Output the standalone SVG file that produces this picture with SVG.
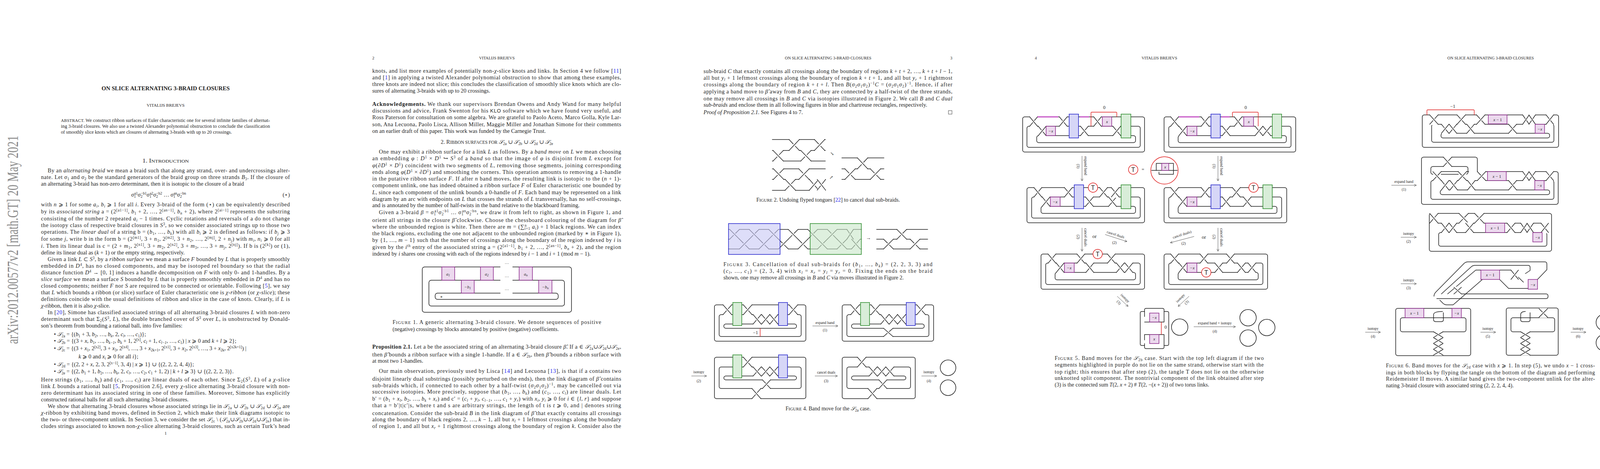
<svg xmlns="http://www.w3.org/2000/svg" xmlns:xlink="http://www.w3.org/1999/xlink" width="4240" height="1200" viewBox="0 0 4240 1200">
<style>
text{font-family:"Liberation Serif","DejaVu Serif",serif;fill:#1e1e1e}
.t{font-size:14.4px}
.h{font-size:10.5px}
.c{font-size:14px}
.a{font-size:9.5px}
.i{font-style:italic}
.b{font-weight:bold}
.sb{font-size:9.5px;baseline-shift:-3px}
.sp{font-size:9.5px;baseline-shift:5px}
.ln{fill:#1a1aee}
.s{fill:none;stroke:#1e1e1e;stroke-width:1.5;stroke-linecap:round;stroke-linejoin:round}
.pk{fill:#ecd9ee;stroke:#8e2c8e;stroke-width:1.5}
.bl{fill:#d6d6f7;stroke:#2323cc;stroke-width:1.5}
.gr{fill:#d8edd8;stroke:#2a8a2a;stroke-width:1.5}
.blt{fill:#c8c8f5;fill-opacity:.6;stroke:#2323cc;stroke-width:1.5}
.grt{fill:#c8e6c8;fill-opacity:.6;stroke:#2a8a2a;stroke-width:1.5}
.rd{fill:none;stroke:#e02020;stroke-width:1.4}
.tc{fill:#fff;stroke:#e02020;stroke-width:1.5}
.ar{fill:none;stroke:#333;stroke-width:0.8;marker-end:url(#ah)}
.mg{stroke:#e070e0;stroke-width:4;stroke-opacity:.8}
.bx{font-size:11px;font-style:italic}
</style>
<defs>
<marker id="ah" markerWidth="8" markerHeight="8" refX="6" refY="3" orient="auto" markerUnits="userSpaceOnUse"><path d="M0 0 L6 3 L0 6" fill="none" stroke="#333" stroke-width="0.8"/></marker>
<g id="xa"><rect x="1" y="-2" width="22" height="28" fill="#fff"/><path d="M0 0 L24 24" class="s" vector-effect="non-scaling-stroke"/><path d="M0 24 L9.5 14.5 M14.5 9.5 L24 0" class="s" vector-effect="non-scaling-stroke"/></g>
<g id="xb"><rect x="1" y="-2" width="22" height="28" fill="#fff"/><path d="M0 24 L24 0" class="s" vector-effect="non-scaling-stroke"/><path d="M0 0 L9.5 9.5 M14.5 14.5 L24 24" class="s" vector-effect="non-scaling-stroke"/></g>
<g id="ya"><path d="M0 0 L24 24" class="s" vector-effect="non-scaling-stroke"/><path d="M0 24 L9.5 14.5 M14.5 9.5 L24 0" class="s" vector-effect="non-scaling-stroke"/></g>
<g id="yb"><path d="M0 24 L24 0" class="s" vector-effect="non-scaling-stroke"/><path d="M0 0 L9.5 9.5 M14.5 14.5 L24 24" class="s" vector-effect="non-scaling-stroke"/></g>
</defs>
<rect width="4240" height="1200" fill="#fff"/>

<!-- ================= PAGE 1 ================= -->
<g id="page1">
<text transform="translate(46,880) rotate(-90)" font-size="40" fill="#8a8a8a" style="fill:#8a8a8a" textLength="533" lengthAdjust="spacingAndGlyphs">arXiv:2012.00577v2  [math.GT]  20 May 2021</text>
<text x="424" y="231" text-anchor="middle" class="b" font-size="14" textLength="328" lengthAdjust="spacingAndGlyphs">ON SLICE ALTERNATING 3-BRAID CLOSURES</text>
<text x="424" y="273" text-anchor="middle" font-size="11" textLength="97" lengthAdjust="spacingAndGlyphs">VITALIJS BREJEVS</text>
<text x="156" y="312" font-size="12.2" textLength="535" lengthAdjust="spacing"><tspan font-size="11">ABSTRACT.</tspan>  We construct ribbon surfaces of Euler characteristic one for several infinite families of alternat-</text>
<text x="156" y="327" font-size="12.2" textLength="535" lengthAdjust="spacing">ing 3-braid closures. We also use a twisted Alexander polynomial obstruction to conclude the classification</text>
<text x="156" y="342" font-size="12.2">of smoothly slice knots which are closures of alternating 3-braids with up to 20 crossings.</text>
<text x="424" y="416" text-anchor="middle" font-size="14" textLength="119" lengthAdjust="spacingAndGlyphs">1. I<tspan font-size="11">NTRODUCTION</tspan></text>
<g class="t">
<text x="122" y="441" textLength="620" lengthAdjust="spacing">By an <tspan class="i">alternating braid</tspan> we mean a braid such that along any strand, over- and undercrossings alter-</text>
<text x="105" y="458" textLength="637" lengthAdjust="spacing">nate. Let <tspan class="i">σ</tspan><tspan class="sb">1</tspan> and <tspan class="i">σ</tspan><tspan class="sb">2</tspan> be the standard generators of the braid group on three strands <tspan class="i">B</tspan><tspan class="sb">3</tspan>. If the closure of</text>
<text x="105" y="475">an alternating 3-braid has non-zero determinant, then it is isotopic to the closure of a braid</text>
<text x="336" y="503"><tspan class="i">σ</tspan><tspan class="sb">1</tspan><tspan class="sp" dx="-4">a1</tspan><tspan class="i">σ</tspan><tspan class="sb">2</tspan><tspan class="sp" dx="-4">−b1</tspan><tspan class="i">σ</tspan><tspan class="sb">1</tspan><tspan class="sp" dx="-4">a2</tspan><tspan class="i">σ</tspan><tspan class="sb">2</tspan><tspan class="sp" dx="-4">−b2</tspan> … <tspan class="i">σ</tspan><tspan class="sb">1</tspan><tspan class="sp" dx="-4">an</tspan><tspan class="i">σ</tspan><tspan class="sb">2</tspan><tspan class="sp" dx="-4">−bn</tspan></text>
<text x="742" y="503" text-anchor="end">(⋆)</text>
<text x="105" y="528" textLength="637" lengthAdjust="spacing">with <tspan class="i">n</tspan> ⩾ 1 for some <tspan class="i">a<tspan class="sb">i</tspan>, b<tspan class="sb">i</tspan></tspan> ⩾ 1 for all <tspan class="i">i</tspan>. Every 3-braid of the form (⋆) can be equivalently described</text>
<text x="105" y="546" textLength="637" lengthAdjust="spacing">by its <tspan class="i">associated string</tspan> a = (2<tspan class="sp">[a1−1]</tspan>, <tspan class="i">b</tspan><tspan class="sb">1</tspan> + 2, …, 2<tspan class="sp">[an−1]</tspan>, <tspan class="i">b<tspan class="sb">n</tspan></tspan> + 2), where 2<tspan class="sp">[ai−1]</tspan> represents the substring</text>
<text x="105" y="564" textLength="637" lengthAdjust="spacing">consisting of the number 2 repeated <tspan class="i">a<tspan class="sb">i</tspan></tspan> − 1 times. Cyclic rotations and reversals of a do not change</text>
<text x="105" y="581" textLength="637" lengthAdjust="spacing">the isotopy class of respective braid closures in <tspan class="i">S</tspan><tspan class="sp">3</tspan>, so we consider associated strings up to those two</text>
<text x="105" y="598" textLength="637" lengthAdjust="spacing">operations. The <tspan class="i">linear dual</tspan> of a string b = (<tspan class="i">b</tspan><tspan class="sb">1</tspan>, …, <tspan class="i">b<tspan class="sb">k</tspan></tspan>) with all <tspan class="i">b<tspan class="sb">i</tspan></tspan> ⩾ 2 is defined as follows: if <tspan class="i">b<tspan class="sb">j</tspan></tspan> ⩾ 3</text>
<text x="105" y="616" textLength="637" lengthAdjust="spacing">for some <tspan class="i">j</tspan>, write b in the form b = (2<tspan class="sp">[m1]</tspan>, 3 + <tspan class="i">n</tspan><tspan class="sb">1</tspan>, 2<tspan class="sp">[m2]</tspan>, 3 + <tspan class="i">n</tspan><tspan class="sb">2</tspan>, …, 2<tspan class="sp">[mj]</tspan>, 2 + <tspan class="i">n<tspan class="sb">j</tspan></tspan>) with <tspan class="i">m<tspan class="sb">i</tspan>, n<tspan class="sb">i</tspan></tspan> ⩾ 0 for all</text>
<text x="105" y="634" textLength="637" lengthAdjust="spacing"><tspan class="i">i</tspan>. Then its linear dual is c = (2 + <tspan class="i">m</tspan><tspan class="sb">1</tspan>, 2<tspan class="sp">[n1]</tspan>, 3 + <tspan class="i">m</tspan><tspan class="sb">2</tspan>, 2<tspan class="sp">[n2]</tspan>, 3 + <tspan class="i">m</tspan><tspan class="sb">3</tspan>, …, 3 + <tspan class="i">m<tspan class="sb">j</tspan></tspan>, 2<tspan class="sp">[nj]</tspan>). If b is (2<tspan class="sp">[k]</tspan>) or (1),</text>
<text x="105" y="651">define its linear dual as (<tspan class="i">k</tspan> + 1) or the empty string, respectively.</text>
<text x="122" y="668" textLength="620" lengthAdjust="spacing">Given a link <tspan class="i">L</tspan> ⊂ <tspan class="i">S</tspan><tspan class="sp">3</tspan>, by a <tspan class="i">ribbon surface</tspan> we mean a surface <tspan class="i">F</tspan> bounded by <tspan class="i">L</tspan> that is properly smoothly</text>
<text x="105" y="685" textLength="637" lengthAdjust="spacing">embedded in <tspan class="i">D</tspan><tspan class="sp">4</tspan>, has no closed components, and may be isotoped rel boundary so that the radial</text>
<text x="105" y="702" textLength="637" lengthAdjust="spacing">distance function <tspan class="i">D</tspan><tspan class="sp">4</tspan> → [0, 1] induces a handle decomposition on <tspan class="i">F</tspan> with only 0- and 1-handles. By a</text>
<text x="105" y="719" textLength="637" lengthAdjust="spacing"><tspan class="i">slice surface</tspan> we mean a surface <tspan class="i">S</tspan> bounded by <tspan class="i">L</tspan> that is properly smoothly embedded in <tspan class="i">D</tspan><tspan class="sp">4</tspan> and has no</text>
<text x="105" y="736" textLength="637" lengthAdjust="spacing">closed components; neither <tspan class="i">F</tspan> nor <tspan class="i">S</tspan> are required to be connected or orientable. Following [<tspan class="ln">5</tspan>], we say</text>
<text x="105" y="753" textLength="637" lengthAdjust="spacing">that <tspan class="i">L</tspan> which bounds a ribbon (or slice) surface of Euler characteristic one is <tspan class="i">χ-ribbon</tspan> (or <tspan class="i">χ-slice</tspan>); these</text>
<text x="105" y="770" textLength="637" lengthAdjust="spacing">definitions coincide with the usual definitions of ribbon and slice in the case of knots. Clearly, if <tspan class="i">L</tspan> is</text>
<text x="105" y="787"><tspan class="i">χ</tspan>-ribbon, then it is also <tspan class="i">χ</tspan>-slice.</text>
<text x="122" y="804" textLength="620" lengthAdjust="spacing">In [<tspan class="ln">20</tspan>], Simone has classified associated strings of all alternating 3-braid closures <tspan class="i">L</tspan> with non-zero</text>
<text x="105" y="821" textLength="637" lengthAdjust="spacing">determinant such that Σ<tspan class="sb">2</tspan>(<tspan class="i">S</tspan><tspan class="sp">3</tspan>, <tspan class="i">L</tspan>), the double branched cover of <tspan class="i">S</tspan><tspan class="sp">3</tspan> over <tspan class="i">L</tspan>, is unobstructed by Donald-</text>
<text x="105" y="838">son’s theorem from bounding a rational ball, into five families:</text>
<text x="138" y="860">•  <tspan class="i">𝒮</tspan><tspan class="sb">2a</tspan> = {(<tspan class="i">b</tspan><tspan class="sb">1</tspan> + 3, <tspan class="i">b</tspan><tspan class="sb">2</tspan>, …, <tspan class="i">b<tspan class="sb">k</tspan></tspan>, 2, <tspan class="i">c<tspan class="sb">l</tspan></tspan>, …, <tspan class="i">c</tspan><tspan class="sb">1</tspan>)};</text>
<text x="138" y="877">•  <tspan class="i">𝒮</tspan><tspan class="sb">2b</tspan> = {(3 + <tspan class="i">x</tspan>, <tspan class="i">b</tspan><tspan class="sb">1</tspan>, …, <tspan class="i">b<tspan class="sb">k−1</tspan></tspan>, <tspan class="i">b<tspan class="sb">k</tspan></tspan> + 1, 2<tspan class="sp">[x]</tspan>, <tspan class="i">c<tspan class="sb">l</tspan></tspan> + 1, <tspan class="i">c<tspan class="sb">l−1</tspan></tspan>, …, <tspan class="i">c</tspan><tspan class="sb">1</tspan>) | <tspan class="i">x</tspan> ⩾ 0 and <tspan class="i">k</tspan> + <tspan class="i">l</tspan> ⩾ 2};</text>
<text x="138" y="896">•  <tspan class="i">𝒮</tspan><tspan class="sb">2c</tspan> = {(3 + <tspan class="i">x</tspan><tspan class="sb">1</tspan>, 2<tspan class="sp">[x2]</tspan>, 3 + <tspan class="i">x</tspan><tspan class="sb">3</tspan>, 2<tspan class="sp">[x4]</tspan>, …, 3 + <tspan class="i">x</tspan><tspan class="sb">2k+1</tspan>, 2<tspan class="sp">[x1]</tspan>, 3 + <tspan class="i">x</tspan><tspan class="sb">2</tspan>, 2<tspan class="sp">[x3]</tspan>, …, 3 + <tspan class="i">x</tspan><tspan class="sb">2k</tspan>, 2<tspan class="sp">[x2k+1]</tspan>) |</text>
<text x="201" y="917"><tspan class="i">k</tspan> ⩾ 0 and <tspan class="i">x<tspan class="sb">i</tspan></tspan> ⩾ 0 for all <tspan class="i">i</tspan>};</text>
<text x="138" y="937">•  <tspan class="i">𝒮</tspan><tspan class="sb">2d</tspan> = {(2, 2 + <tspan class="i">x</tspan>, 2, 3, 2<tspan class="sp">[x−1]</tspan>, 3, 4) | <tspan class="i">x</tspan> ⩾ 1} ∪ {(2, 2, 2, 4, 4)};</text>
<text x="138" y="955">•  <tspan class="i">𝒮</tspan><tspan class="sb">2e</tspan> = {(2, <tspan class="i">b</tspan><tspan class="sb">1</tspan> + 1, <tspan class="i">b</tspan><tspan class="sb">2</tspan>, …, <tspan class="i">b<tspan class="sb">k</tspan></tspan>, 2, <tspan class="i">c<tspan class="sb">l</tspan></tspan>, …, <tspan class="i">c</tspan><tspan class="sb">2</tspan>, <tspan class="i">c</tspan><tspan class="sb">1</tspan> + 1, 2) | <tspan class="i">k</tspan> + <tspan class="i">l</tspan> ⩾ 3} ∪ {(2, 2, 2, 3)}.</text>
<text x="105" y="976" textLength="637" lengthAdjust="spacing">Here strings (<tspan class="i">b</tspan><tspan class="sb">1</tspan>, …, <tspan class="i">b<tspan class="sb">k</tspan></tspan>) and (<tspan class="i">c</tspan><tspan class="sb">1</tspan>, …, <tspan class="i">c<tspan class="sb">l</tspan></tspan>) are linear duals of each other. Since Σ<tspan class="sb">2</tspan>(<tspan class="i">S</tspan><tspan class="sp">3</tspan>, <tspan class="i">L</tspan>) of a <tspan class="i">χ</tspan>-slice</text>
<text x="105" y="993" textLength="637" lengthAdjust="spacing">link <tspan class="i">L</tspan> bounds a rational ball [<tspan class="ln">5</tspan>, Proposition 2.6], every <tspan class="i">χ</tspan>-slice alternating 3-braid closure with non-</text>
<text x="105" y="1010" textLength="637" lengthAdjust="spacing">zero determinant has its associated string in one of these families. Moreover, Simone has explicitly</text>
<text x="105" y="1027">constructed rational balls for all such alternating 3-braid closures.</text>
<text x="122" y="1044" textLength="620" lengthAdjust="spacing">We show that alternating 3-braid closures whose associated strings lie in <tspan class="i">𝒮</tspan><tspan class="sb">2a</tspan> ∪ <tspan class="i">𝒮</tspan><tspan class="sb">2b</tspan> ∪ <tspan class="i">𝒮</tspan><tspan class="sb">2d</tspan> ∪ <tspan class="i">𝒮</tspan><tspan class="sb">2e</tspan> are</text>
<text x="105" y="1061" textLength="637" lengthAdjust="spacing"><tspan class="i">χ</tspan>-ribbon by exhibiting band moves, defined in Section 2, which make their link diagrams isotopic to</text>
<text x="105" y="1078" textLength="637" lengthAdjust="spacing">the two- or three-component unlink. In Section 3, we consider the set <tspan class="i">𝒮</tspan><tspan class="sb">2c</tspan> \ (<tspan class="i">𝒮</tspan><tspan class="sb">2a</tspan>∪<tspan class="i">𝒮</tspan><tspan class="sb">2b</tspan>∪<tspan class="i">𝒮</tspan><tspan class="sb">2d</tspan>∪<tspan class="i">𝒮</tspan><tspan class="sb">2e</tspan>) that in-</text>
<text x="105" y="1095" textLength="637" lengthAdjust="spacing">cludes strings associated to known non-<tspan class="i">χ</tspan>-slice alternating 3-braid closures, such as certain Turk’s head</text>
<text x="424" y="1112" text-anchor="middle" font-size="11">1</text>
</g>
</g>

<!-- ================= PAGE 2 ================= -->
<g id="page2">
<text x="953" y="152" class="h">2</text>
<text x="1272" y="152" class="h" text-anchor="middle">VITALIJS BREJEVS</text>
<g class="t">
<text x="953" y="186" textLength="637" lengthAdjust="spacing">knots, and list more examples of potentially non-<tspan class="i">χ</tspan>-slice knots and links. In Section 4 we follow [<tspan class="ln">11</tspan>]</text>
<text x="953" y="203" textLength="637" lengthAdjust="spacing">and [<tspan class="ln">1</tspan>] in applying a twisted Alexander polynomial obstruction to show that among these examples,</text>
<text x="953" y="220" textLength="637" lengthAdjust="spacing">three knots are indeed not slice; this concludes the classification of smoothly slice knots which are clo-</text>
<text x="953" y="237">sures of alternating 3-braids with up to 20 crossings.</text>
<text x="953" y="271" textLength="637" lengthAdjust="spacing"><tspan class="b">Acknowledgements.</tspan> We thank our supervisors Brendan Owens and Andy Wand for many helpful</text>
<text x="953" y="288" textLength="637" lengthAdjust="spacing">discussions and advice, Frank Swenton for his <tspan font-family="Liberation Sans" font-size="13">KLO</tspan> software which we have found very useful, and</text>
<text x="953" y="305" textLength="637" lengthAdjust="spacing">Ross Paterson for consultation on some algebra. We are grateful to Paolo Aceto, Marco Golla, Kyle Lar-</text>
<text x="953" y="323" textLength="637" lengthAdjust="spacing">son, Ana Lecuona, Paolo Lisca, Allison Miller, Maggie Miller and Jonathan Simone for their comments</text>
<text x="953" y="340">on an earlier draft of this paper. This work was funded by the Carnegie Trust.</text>
<text x="1272" y="368" text-anchor="middle">2. R<tspan font-size="11.5">IBBON SURFACES FOR</tspan> <tspan class="i">𝒮</tspan><tspan class="sb">2a</tspan> ∪ <tspan class="i">𝒮</tspan><tspan class="sb">2b</tspan> ∪ <tspan class="i">𝒮</tspan><tspan class="sb">2d</tspan> ∪ <tspan class="i">𝒮</tspan><tspan class="sb">2e</tspan></text>
<text x="970" y="393" textLength="620" lengthAdjust="spacing">One may exhibit a ribbon surface for a link <tspan class="i">L</tspan> as follows. By a <tspan class="i">band move</tspan> on <tspan class="i">L</tspan> we mean choosing</text>
<text x="953" y="410" textLength="637" lengthAdjust="spacing">an embedding <tspan class="i">φ</tspan> : <tspan class="i">D</tspan><tspan class="sp">1</tspan> × <tspan class="i">D</tspan><tspan class="sp">1</tspan> ↪ <tspan class="i">S</tspan><tspan class="sp">3</tspan> of a <tspan class="i">band</tspan> so that the image of <tspan class="i">φ</tspan> is disjoint from <tspan class="i">L</tspan> except for</text>
<text x="953" y="428" textLength="637" lengthAdjust="spacing"><tspan class="i">φ</tspan>(∂<tspan class="i">D</tspan><tspan class="sp">1</tspan> × <tspan class="i">D</tspan><tspan class="sp">1</tspan>) coincident with two segments of <tspan class="i">L</tspan>, removing those segments, joining corresponding</text>
<text x="953" y="445" textLength="637" lengthAdjust="spacing">ends along <tspan class="i">φ</tspan>(<tspan class="i">D</tspan><tspan class="sp">1</tspan> × ∂<tspan class="i">D</tspan><tspan class="sp">1</tspan>) and smoothing the corners. This operation amounts to removing a 1-handle</text>
<text x="953" y="462" textLength="637" lengthAdjust="spacing">in the putative ribbon surface <tspan class="i">F</tspan>. If after <tspan class="i">n</tspan> band moves, the resulting link is isotopic to the (<tspan class="i">n</tspan> + 1)-</text>
<text x="953" y="479" textLength="637" lengthAdjust="spacing">component unlink, one has indeed obtained a ribbon surface <tspan class="i">F</tspan> of Euler characteristic one bounded by</text>
<text x="953" y="497" textLength="637" lengthAdjust="spacing"><tspan class="i">L</tspan>, since each component of the unlink bounds a 0-handle of <tspan class="i">F</tspan>. Each band may be represented on a link</text>
<text x="953" y="514" textLength="637" lengthAdjust="spacing">diagram by an arc with endpoints on <tspan class="i">L</tspan> that crosses the strands of <tspan class="i">L</tspan> transversally, has no self-crossings,</text>
<text x="953" y="530">and is annotated by the number of half-twists in the band relative to the blackboard framing.</text>
<text x="970" y="548" textLength="620" lengthAdjust="spacing">Given a 3-braid <tspan class="i">β</tspan> = <tspan class="i">σ</tspan><tspan class="sb">1</tspan><tspan class="sp" dx="-4">a1</tspan><tspan class="i">σ</tspan><tspan class="sb">2</tspan><tspan class="sp" dx="-4">−b1</tspan> … <tspan class="i">σ</tspan><tspan class="sb">1</tspan><tspan class="sp" dx="-4">an</tspan><tspan class="i">σ</tspan><tspan class="sb">2</tspan><tspan class="sp" dx="-4">−bn</tspan>, we draw it from left to right, as shown in Figure 1, and</text>
<text x="953" y="568" textLength="637" lengthAdjust="spacing">orient all strings in the closure <tspan class="i">β̂</tspan> clockwise. Choose the chessboard colouring of the diagram for <tspan class="i">β̂</tspan></text>
<text x="953" y="585" textLength="637" lengthAdjust="spacing">where the unbounded region is white. Then there are <tspan class="i">m</tspan> = (∑<tspan class="sp">n</tspan><tspan class="sb" dx="-6">i=1</tspan> <tspan class="i">a<tspan class="sb">i</tspan></tspan>) + 1 black regions. We can index</text>
<text x="953" y="602" textLength="637" lengthAdjust="spacing">the black regions, excluding the one not adjacent to the unbounded region (marked by ∗ in Figure 1),</text>
<text x="953" y="619" textLength="637" lengthAdjust="spacing">by {1, …, <tspan class="i">m</tspan> − 1} such that the number of crossings along the boundary of the region indexed by <tspan class="i">i</tspan> is</text>
<text x="953" y="637" textLength="637" lengthAdjust="spacing">given by the <tspan class="i">i</tspan><tspan class="sp">th</tspan> entry of the associated string a = (2<tspan class="sp">[a1−1]</tspan>, <tspan class="i">b</tspan><tspan class="sb">1</tspan> + 2, …, 2<tspan class="sp">[an−1]</tspan>, <tspan class="i">b<tspan class="sb">n</tspan></tspan> + 2), and the region</text>
<text x="953" y="654">indexed by <tspan class="i">i</tspan> shares one crossing with each of the regions indexed by <tspan class="i">i</tspan> − 1 and <tspan class="i">i</tspan> + 1 (mod <tspan class="i">m</tspan> − 1).</text>
<text x="953" y="892" textLength="637" lengthAdjust="spacing"><tspan class="b">Proposition 2.1.</tspan> Let a be the associated string of an alternating 3-braid closure <tspan class="i">β̂</tspan>. If a ∈ <tspan class="i">𝒮</tspan><tspan class="sb">2a</tspan>∪<tspan class="i">𝒮</tspan><tspan class="sb">2d</tspan>∪<tspan class="i">𝒮</tspan><tspan class="sb">2e</tspan>,</text>
<text x="953" y="912" textLength="637" lengthAdjust="spacing">then <tspan class="i">β̂</tspan> bounds a ribbon surface with a single 1-handle. If a ∈ <tspan class="i">𝒮</tspan><tspan class="sb">2b</tspan>, then <tspan class="i">β̂</tspan> bounds a ribbon surface with</text>
<text x="953" y="928">at most two 1-handles.</text>
<text x="970" y="954" textLength="620" lengthAdjust="spacing">Our main observation, previously used by Lisca [<tspan class="ln">14</tspan>] and Lecuona [<tspan class="ln">13</tspan>], is that if a contains two</text>
<text x="953" y="974" textLength="637" lengthAdjust="spacing">disjoint linearly dual substrings (possibly perturbed on the ends), then the link diagram of <tspan class="i">β̂</tspan> contains</text>
<text x="953" y="991" textLength="637" lengthAdjust="spacing">sub-braids which, if connected to each other by a half-twist (<tspan class="i">σ</tspan><tspan class="sb">2</tspan><tspan class="i">σ</tspan><tspan class="sb">1</tspan><tspan class="i">σ</tspan><tspan class="sb">2</tspan>)<tspan class="sp">−1</tspan>, may be cancelled out via</text>
<text x="953" y="1007" textLength="637" lengthAdjust="spacing">successive isotopies. More precisely, suppose that (<tspan class="i">b</tspan><tspan class="sb">1</tspan>, …, <tspan class="i">b<tspan class="sb">k</tspan></tspan>) and (<tspan class="i">c</tspan><tspan class="sb">1</tspan>, …, <tspan class="i">c<tspan class="sb">l</tspan></tspan>) are linear duals. Let</text>
<text x="953" y="1025" textLength="637" lengthAdjust="spacing">b′ = (<tspan class="i">b</tspan><tspan class="sb">1</tspan> + <tspan class="i">x<tspan class="sb">l</tspan></tspan>, <tspan class="i">b</tspan><tspan class="sb">2</tspan>, …, <tspan class="i">b<tspan class="sb">k</tspan></tspan> + <tspan class="i">x<tspan class="sb">r</tspan></tspan>) and c′ = (<tspan class="i">c<tspan class="sb">l</tspan></tspan> + <tspan class="i">y<tspan class="sb">l</tspan></tspan>, <tspan class="i">c<tspan class="sb">l−1</tspan></tspan>, …, <tspan class="i">c</tspan><tspan class="sb">1</tspan> + <tspan class="i">y<tspan class="sb">r</tspan></tspan>) with <tspan class="i">x<tspan class="sb">i</tspan>, y<tspan class="sb">i</tspan></tspan> ⩾ 0 for <tspan class="i">i</tspan> ∈ {<tspan class="i">l, r</tspan>} and suppose</text>
<text x="953" y="1042" textLength="637" lengthAdjust="spacing">that a = b′|t|c′|s, where t and s are arbitrary strings, the length of t is <tspan class="i">t</tspan> ⩾ 0, and | denotes string</text>
<text x="953" y="1062" textLength="637" lengthAdjust="spacing">concatenation. Consider the sub-braid <tspan class="i">B</tspan> in the link diagram of <tspan class="i">β̂</tspan> that exactly contains all crossings</text>
<text x="953" y="1078" textLength="637" lengthAdjust="spacing">along the boundary of black regions 2, …, <tspan class="i">k</tspan> − 1, all but <tspan class="i">x<tspan class="sb">l</tspan></tspan> + 1 leftmost crossings along the boundary</text>
<text x="953" y="1095" textLength="637" lengthAdjust="spacing">of region 1, and all but <tspan class="i">x<tspan class="sb">r</tspan></tspan> + 1 rightmost crossings along the boundary of region <tspan class="i">k</tspan>. Consider also the</text>
</g>
<!-- Figure 1 -->
<g id="fig1">
<rect x="1081" y="683" width="382" height="116" rx="6" class="s"/>
<rect x="1098" y="717" width="347" height="66" rx="6" class="s"/>
<rect x="1114" y="750" width="315" height="16" rx="6" class="s"/>
<rect x="1281" y="678" width="31" height="78" fill="#fff"/>
<text x="1297" y="679" text-anchor="middle" font-size="11">⋯</text>
<text x="1297" y="713" text-anchor="middle" font-size="11">⋯</text>
<text x="1297" y="746" text-anchor="middle" font-size="11">⋯</text>
<rect x="1131" y="683" width="33" height="34" class="pk"/>
<rect x="1230" y="683" width="33" height="34" class="pk"/>
<rect x="1329" y="683" width="34" height="34" class="pk"/>
<rect x="1181" y="717" width="33" height="33" class="pk"/>
<rect x="1379" y="717" width="34" height="33" class="pk"/>
<text x="1147" y="705" text-anchor="middle" class="bx">a<tspan font-size="8" baseline-shift="-2">1</tspan></text>
<text x="1246" y="705" text-anchor="middle" class="bx">a<tspan font-size="8" baseline-shift="-2">2</tspan></text>
<text x="1346" y="705" text-anchor="middle" class="bx">a<tspan font-size="8" baseline-shift="-2">n</tspan></text>
<text x="1197" y="738" text-anchor="middle" class="bx">−b<tspan font-size="8" baseline-shift="-2">1</tspan></text>
<text x="1396" y="738" text-anchor="middle" class="bx">−b<tspan font-size="8" baseline-shift="-2">n</tspan></text>
<text x="1130" y="763" text-anchor="middle" font-size="11">∗</text>
</g>
<text x="1005" y="829" class="c" textLength="534" lengthAdjust="spacing">F<tspan font-size="11">IGURE</tspan> 1. A generic alternating 3-braid closure. We denote sequences of positive</text>
<text x="1005" y="847" class="c">(negative) crossings by blocks annotated by positive (negative) coefficients.</text>
</g>

<!-- ================= PAGE 3 ================= -->
<g id="page3">
<text x="2120" y="152" class="h" text-anchor="middle">ON SLICE ALTERNATING 3-BRAID CLOSURES</text>
<text x="2438" y="152" class="h" text-anchor="end">3</text>
<g class="t">
<text x="1801" y="187" textLength="637" lengthAdjust="spacing">sub-braid <tspan class="i">C</tspan> that exactly contains all crossings along the boundary of regions <tspan class="i">k</tspan> + <tspan class="i">t</tspan> + 2, …, <tspan class="i">k</tspan> + <tspan class="i">t</tspan> + <tspan class="i">l</tspan> − 1,</text>
<text x="1801" y="204" textLength="637" lengthAdjust="spacing">all but <tspan class="i">y<tspan class="sb">l</tspan></tspan> + 1 leftmost crossings along the boundary of region <tspan class="i">k</tspan> + <tspan class="i">t</tspan> + 1, and all but <tspan class="i">y<tspan class="sb">r</tspan></tspan> + 1 rightmost</text>
<text x="1801" y="221" textLength="637" lengthAdjust="spacing">crossings along the boundary of region <tspan class="i">k</tspan> + <tspan class="i">t</tspan> + <tspan class="i">l</tspan>. Then <tspan class="i">B</tspan>(<tspan class="i">σ</tspan><tspan class="sb">2</tspan><tspan class="i">σ</tspan><tspan class="sb">1</tspan><tspan class="i">σ</tspan><tspan class="sb">2</tspan>)<tspan class="sp">−1</tspan><tspan class="i">C</tspan> = (<tspan class="i">σ</tspan><tspan class="sb">2</tspan><tspan class="i">σ</tspan><tspan class="sb">1</tspan><tspan class="i">σ</tspan><tspan class="sb">2</tspan>)<tspan class="sp">−1</tspan>. Hence, if after</text>
<text x="1801" y="239" textLength="637" lengthAdjust="spacing">applying a band move to <tspan class="i">β̂</tspan> away from <tspan class="i">B</tspan> and <tspan class="i">C</tspan>, they are connected by a half-twist of the three strands,</text>
<text x="1801" y="257" textLength="637" lengthAdjust="spacing">one may remove all crossings in <tspan class="i">B</tspan> and <tspan class="i">C</tspan> via isotopies illustrated in Figure 2. We call <tspan class="i">B</tspan> and <tspan class="i">C</tspan> <tspan class="i">dual</tspan></text>
<text x="1801" y="273"><tspan class="i">sub-braids</tspan> and enclose them in all following figures in blue and chartreuse rectangles, respectively.</text>
<text x="1801" y="292"><tspan class="i">Proof of Proposition 2.1.</tspan>  See Figures 4 to 7.</text>
</g>
<rect x="2428" y="283" width="9" height="9" fill="none" stroke="#333" stroke-width="0.9"/>
<!-- Figure 2 -->
<g id="fig2">
<path class="s" d="M1977 357 H2113 M1977 385 H2113 M1977 412 H2113"/>
<use href="#xa" transform="translate(1979,385) scale(1.1,1.125)"/>
<use href="#xb" transform="translate(2020,357) scale(1.1,1.17)"/>
<use href="#xa" transform="translate(2050,385) scale(1.1,1.125)"/>
<use href="#xb" transform="translate(2085,357) scale(1.1,1.17)"/>
<path class="s" d="M1977 432 H2113 M1977 459 H2113 M1977 487 H2113"/>
<use href="#xa" transform="translate(1980,432) scale(1.1,1.125)"/>
<use href="#xa" transform="translate(2010,459) scale(1.1,1.15)"/>
<use href="#xb" transform="translate(2045,432) scale(1.1,1.125)"/>
<use href="#xb" transform="translate(2072,459) scale(1.0,1.15)"/>
<use href="#xa" transform="translate(2092,459) scale(0.9,1.15)"/>
<text x="2130" y="397" font-size="12" text-anchor="middle">↘</text>
<text x="2128" y="458" font-size="12" text-anchor="middle">↗</text>
<path class="s" d="M2155 404 H2263 M2155 432 H2263 M2155 459 H2263"/>
<use href="#xb" transform="translate(2163,432) scale(1.1,1.125)"/>
<use href="#xa" transform="translate(2195,404) scale(1.1,1.17)"/>
<use href="#xb" transform="translate(2228,432) scale(1.1,1.125)"/>
</g>
<text x="2120" y="516" class="c" text-anchor="middle">F<tspan font-size="11">IGURE</tspan> 2.  Undoing flyped tongues [<tspan class="ln">22</tspan>] to cancel dual sub-braids.</text>
<!-- Figure 3 -->
<g id="fig3">
<path class="s" d="M1865 587 H2205 M1865 612 H2205 M1865 637 H2205"/>
<rect x="1866" y="584" width="338" height="56" fill="#fff"/>
<path class="s" d="M1865 587 H1868 M1865 612 H1868 M1865 637 H1868 M2202 587 H2205 M2202 612 H2205 M2202 637 H2205"/>
<use href="#ya" transform="translate(1868,587) scale(1.04,1.04)"/>
<path class="s" d="M1868 637 H1893"/>
<use href="#yb" transform="translate(1893,612) scale(1.04,1.04)"/>
<path class="s" d="M1893 587 H1918"/>
<use href="#ya" transform="translate(1918,587) scale(1.04,1.04)"/>
<path class="s" d="M1918 637 H1943"/>
<use href="#yb" transform="translate(1943,612) scale(1.04,1.04)"/>
<path class="s" d="M1943 587 H1968"/>
<use href="#ya" transform="translate(1968,587) scale(1.04,1.04)"/>
<path class="s" d="M1968 637 H1993"/>
<use href="#yb" transform="translate(1993,612) scale(1.04,1.04)"/>
<path class="s" d="M1993 587 H2018 M2018 637 H2043"/>
<use href="#ya" transform="translate(2018,587) scale(1.04,1.04)"/>
<use href="#yb" transform="translate(2043,612) scale(1.04,1.04)"/>
<path class="s" d="M2043 587 H2068 M2068 637 H2093"/>
<use href="#ya" transform="translate(2068,587) scale(1.04,1.04)"/>
<use href="#ya" transform="translate(2093,612) scale(1.04,1.04)"/>
<path class="s" d="M2093 587 H2118"/>
<use href="#yb" transform="translate(2118,587) scale(1.04,1.04)"/>
<path class="s" d="M2118 637 H2143"/>
<use href="#ya" transform="translate(2143,612) scale(1.04,1.04)"/>
<path class="s" d="M2143 587 H2168"/>
<use href="#yb" transform="translate(2168,587) scale(0.7,1.04)"/>
<path class="s" d="M2168 637 H2180"/>
<use href="#ya" transform="translate(2180,612) scale(0.92,1.04)"/>
<path class="s" d="M2185 587 H2202"/>
<rect x="1865" y="572" width="132" height="79" class="blt"/>
<rect x="2074" y="572" width="131" height="79" class="grt"/>
<text x="2223" y="613" font-size="13" text-anchor="middle">→</text>
<path class="s" d="M2244 587 H2375 M2244 612 H2375 M2244 637 H2375"/>
<use href="#xb" transform="translate(2262,612) scale(1.04,1.04)"/>
<use href="#xa" transform="translate(2296,587) scale(1.04,1.04)"/>
<use href="#xb" transform="translate(2330,612) scale(1.04,1.04)"/>
</g>
<text x="1852" y="681" class="c" textLength="535" lengthAdjust="spacing">F<tspan font-size="11">IGURE</tspan> 3. Cancellation of dual sub-braids for (<tspan class="i">b</tspan><tspan class="sb">1</tspan>, …, <tspan class="i">b<tspan class="sb">k</tspan></tspan>) = (2, 2, 3, 3) and</text>
<text x="1852" y="698" class="c" textLength="535" lengthAdjust="spacing">(<tspan class="i">c<tspan class="sb">l</tspan></tspan>, …, <tspan class="i">c</tspan><tspan class="sb">1</tspan>) = (2, 3, 4) with <tspan class="i">x<tspan class="sb">l</tspan></tspan> = <tspan class="i">x<tspan class="sb">r</tspan></tspan> = <tspan class="i">y<tspan class="sb">l</tspan></tspan> = <tspan class="i">y<tspan class="sb">r</tspan></tspan> = 0. Fixing the ends on the braid</text>
<text x="1852" y="715" class="c">shown, one may remove all crossings in <tspan class="i">B</tspan> and <tspan class="i">C</tspan> via moves illustrated in Figure 2.</text>
<!-- Figure 4 -->
<g id="fig4">
<g id="f4a">
<rect x="1829" y="780" width="234" height="93" rx="5" class="s"/>
<rect x="1841" y="805" width="210" height="56" rx="5" class="s"/>
<rect x="1853" y="829" width="186" height="11" rx="5" class="s"/>
<use href="#xa" transform="translate(1851,780) scale(0.92,1.04)"/>
<use href="#xb" transform="translate(1903,780) scale(0.92,1.04)"/>
<use href="#xa" transform="translate(1928,805) scale(0.85,1.0)"/>
<use href="#xb" transform="translate(1950,805) scale(0.85,1.0)"/>
<use href="#xa" transform="translate(1971,805) scale(0.85,1.0)"/>
<use href="#xb" transform="translate(2020,780) scale(0.92,1.04)"/>
<rect x="1876" y="774" width="23" height="59" class="gr"/>
<rect x="1993" y="774" width="23" height="59" class="bl"/>
<path class="rd" d="M1946 840 V861"/>
<text x="1934" y="855" font-size="12" text-anchor="middle">−1</text>
</g>
<text x="2112" y="829" class="a" text-anchor="middle">expand band</text>
<path class="ar" d="M2080 834 H2145"/>
<text x="2112" y="848" class="a" text-anchor="middle">(1)</text>
<g id="f4b">
<rect x="2156" y="780" width="234" height="93" rx="5" class="s"/>
<rect x="2168" y="805" width="210" height="56" rx="5" class="s"/>
<rect x="2180" y="829" width="186" height="11" rx="5" class="s"/>
<use href="#xa" transform="translate(2178,780) scale(0.92,1.04)"/>
<use href="#xb" transform="translate(2230,780) scale(0.92,1.04)"/>
<use href="#xa" transform="translate(2255,805) scale(0.85,1.0)"/>
<use href="#xb" transform="translate(2277,805) scale(0.85,1.0)"/>
<use href="#xa" transform="translate(2298,805) scale(0.85,1.0)"/>
<use href="#xb" transform="translate(2347,780) scale(0.92,1.04)"/>
<use href="#xa" transform="translate(2262,840) scale(1.0,0.875)"/>
<rect x="2203" y="774" width="23" height="59" class="gr"/>
<rect x="2320" y="774" width="23" height="59" class="bl"/>
</g>
<text x="1789" y="955" class="a" text-anchor="middle">isotopy</text>
<path class="ar" d="M1770 962 H1809"/>
<text x="1789" y="978" class="a" text-anchor="middle">(2)</text>
<g id="f4c">
<rect x="1829" y="914" width="234" height="106" rx="5" class="s"/>
<rect x="1841" y="939" width="210" height="55" rx="5" class="s"/>
<rect x="1853" y="962" width="186" height="10" rx="5" class="s"/>
<use href="#xb" transform="translate(1903,914) scale(0.92,1.04)"/>
<use href="#xa" transform="translate(1928,939) scale(0.85,0.96)"/>
<use href="#xb" transform="translate(1950,939) scale(0.85,0.96)"/>
<use href="#xa" transform="translate(1971,939) scale(0.85,0.96)"/>
<use href="#xb" transform="translate(1952,972) scale(0.85,0.92)"/>
<use href="#xa" transform="translate(1925,994) scale(0.95,1.08)"/>
<rect x="1876" y="908" width="23" height="59" class="gr"/>
<rect x="1993" y="908" width="23" height="59" class="bl"/>
</g>
<text x="2115" y="956" class="a" text-anchor="middle">cancel duals</text>
<path class="ar" d="M2086 962 H2144"/>
<text x="2115" y="978" class="a" text-anchor="middle">(3)</text>
<g id="f4d">
<rect x="2156" y="914" width="187" height="106" rx="5" class="s"/>
<rect x="2168" y="939" width="163" height="55" rx="5" class="s"/>
<rect x="2180" y="962" width="139" height="10" rx="5" class="s"/>
<use href="#xb" transform="translate(2195,914) scale(0.92,1.04)"/>
<use href="#xa" transform="translate(2225,939) scale(0.85,0.96)"/>
<use href="#xb" transform="translate(2247,939) scale(0.85,0.96)"/>
<use href="#xa" transform="translate(2268,939) scale(0.85,0.96)"/>
<use href="#xb" transform="translate(2250,972) scale(0.85,0.92)"/>
<use href="#xa" transform="translate(2222,994) scale(0.95,1.08)"/>
</g>
<text x="2378" y="955" class="a" text-anchor="middle">isotopy</text>
<path class="ar" d="M2359 962 H2398"/>
<text x="2378" y="978" class="a" text-anchor="middle">(4)</text>
<circle cx="2427" cy="941" r="20" class="s"/>
<circle cx="2427" cy="992" r="20" class="s"/>
</g>
<text x="2120" y="1050" class="c" text-anchor="middle">F<tspan font-size="11">IGURE</tspan> 4.  Band move for the <tspan class="i">𝒮</tspan><tspan class="sb">2a</tspan> case.</text>
</g>

<!-- ================= PAGE 4 ================= -->
<g id="page4">
<text x="2649" y="152" class="h">4</text>
<text x="2968" y="152" class="h" text-anchor="middle">VITALIJS BREJEVS</text>
<g id="fig5">
<g id="f5a">
<rect x="2618" y="299" width="312" height="90" rx="5" class="s"/>
<rect x="2629" y="323" width="290" height="54" rx="5" class="s"/>
<rect x="2654" y="347" width="253" height="18" rx="5" class="s"/>
<use href="#xa" transform="translate(2636,299) scale(0.83,1)"/>
<use href="#xb" transform="translate(2658,323) scale(0.83,1)"/>
<use href="#xb" transform="translate(2712,299) scale(0.83,1)"/>
<use href="#xa" transform="translate(2766,323) scale(0.83,1)"/>
<use href="#xa" transform="translate(2800,299) scale(0.8,1)"/>
<use href="#xb" transform="translate(2849,323) scale(0.83,1)"/>
<path class="mg" d="M2656 299 H2709 M2765 299 H2788"/>
<rect x="2678" y="323" width="24" height="24" class="pk"/>
<rect x="2822" y="299" width="24" height="24" class="pk"/>
<rect x="2737" y="292" width="24" height="61" class="bl"/>
<rect x="2870" y="292" width="25" height="61" class="gr"/>
<path class="rd" d="M2793 323 V289 Q2793 287 2795 287 H2857 Q2859 287 2859 289 V299"/>
<text x="2827" y="279" font-size="12" text-anchor="middle">0</text>
<text x="2690" y="339" text-anchor="middle" class="bx">−x</text>
<text x="2834" y="315" text-anchor="middle" class="bx">x</text>
</g>
<g id="f5b">
<rect x="2980" y="299" width="337" height="90" rx="5" class="s"/>
<rect x="2992" y="323" width="313" height="54" rx="5" class="s"/>
<rect x="3016" y="347" width="277" height="18" rx="5" class="s"/>
<use href="#xa" transform="translate(2997,299) scale(0.83,1)"/>
<use href="#xb" transform="translate(3018,323) scale(0.83,1)"/>
<use href="#xb" transform="translate(3075,299) scale(0.83,1)"/>
<use href="#xa" transform="translate(3129,323) scale(0.83,1)"/>
<use href="#xa" transform="translate(3160,299) scale(0.8,1)"/>
<use href="#xb" transform="translate(3213,323) scale(0.83,1)"/>
<use href="#xb" transform="translate(3233,323) scale(0.83,1)"/>
<path class="mg" d="M3018 299 H3070 M3127 299 H3148"/>
<rect x="3039" y="323" width="25" height="24" class="pk"/>
<rect x="3184" y="299" width="25" height="24" class="pk"/>
<rect x="3100" y="292" width="24" height="61" class="bl"/>
<rect x="3257" y="292" width="24" height="61" class="gr"/>
<path class="rd" d="M3155 299 V289 Q3155 287 3157 287 H3219 Q3221 287 3221 289 V323"/>
<text x="3189" y="279" font-size="12" text-anchor="middle">0</text>
<text x="3052" y="339" text-anchor="middle" class="bx">−x</text>
<text x="3197" y="315" text-anchor="middle" class="bx">x</text>
</g>
<path class="ar" d="M2770 399 V463"/>
<text transform="translate(2776,400) rotate(90)" class="a">expand band</text>
<text transform="translate(2757,425) rotate(90)" class="a" text-anchor="middle">(1)</text>
<path class="ar" d="M3118 399 V463"/>
<text transform="translate(3124,400) rotate(90)" class="a">expand band</text>
<text transform="translate(3105,425) rotate(90)" class="a" text-anchor="middle">(1)</text>
<circle cx="2901" cy="434" r="12" class="tc"/>
<text x="2901" y="440" text-anchor="middle" font-family="Liberation Sans" style="font-family:'Liberation Sans',sans-serif" font-size="16">T</text>
<text x="2926" y="438" text-anchor="middle" font-size="12">=</text>
<g id="tzoom">
<path class="s" d="M2948 436 H3014"/>
<path class="s" d="M2960 436 V418 H3004 V446 H2967 V440"/>
<rect x="2974" y="418" width="18" height="18" class="pk"/>
<text x="2983" y="431" text-anchor="middle" class="bx">x</text>
<circle cx="2981" cy="436" r="35" fill="none" stroke="#e02020" stroke-width="1.5"/>
</g>
<g id="f5c">
<rect x="2629" y="480" width="301" height="90" rx="5" class="s"/>
<rect x="2641" y="504" width="278" height="54" rx="5" class="s"/>
<rect x="2665" y="528" width="242" height="18" rx="5" class="s"/>
<use href="#xa" transform="translate(2647,480) scale(0.83,1)"/>
<use href="#xb" transform="translate(2668,504) scale(0.83,1)"/>
<use href="#xb" transform="translate(2725,480) scale(0.83,1)"/>
<use href="#xa" transform="translate(2779,504) scale(0.83,1)"/>
<use href="#xb" transform="translate(2815,480) scale(0.83,1)"/>
<use href="#xa" transform="translate(2838,504) scale(0.83,1)"/>
<use href="#xb" transform="translate(2845,480) scale(0.83,1)"/>
<rect x="2689" y="504" width="25" height="24" class="pk"/>
<rect x="2750" y="473" width="24" height="61" class="bl"/>
<rect x="2870" y="473" width="25" height="61" class="gr"/>
<circle cx="2798" cy="480" r="12" class="tc"/>
<text x="2798" y="486" text-anchor="middle" style="font-family:'Liberation Sans',sans-serif" font-size="16">T</text>
<text x="2701" y="520" text-anchor="middle" class="bx">−x</text>
</g>
<g id="f5d">
<rect x="2980" y="480" width="314" height="90" rx="5" class="s"/>
<rect x="2992" y="504" width="289" height="54" rx="5" class="s"/>
<rect x="3016" y="528" width="253" height="18" rx="5" class="s"/>
<use href="#xa" transform="translate(2997,480) scale(0.83,1)"/>
<use href="#xb" transform="translate(3018,504) scale(0.83,1)"/>
<use href="#xb" transform="translate(3075,480) scale(0.83,1)"/>
<use href="#xa" transform="translate(3129,504) scale(0.83,1)"/>
<use href="#xb" transform="translate(3155,480) scale(0.83,1)"/>
<use href="#xa" transform="translate(3183,504) scale(0.83,1)"/>
<rect x="3039" y="504" width="25" height="24" class="pk"/>
<rect x="3100" y="473" width="24" height="61" class="bl"/>
<rect x="3233" y="473" width="24" height="61" class="gr"/>
<circle cx="3209" cy="480" r="12" class="tc"/>
<text x="3209" y="486" text-anchor="middle" style="font-family:'Liberation Sans',sans-serif" font-size="16">T</text>
<text x="3052" y="520" text-anchor="middle" class="bx">−x</text>
</g>
<path class="ar" d="M2770 583 V643"/>
<text transform="translate(2776,584) rotate(90)" class="a">cancel duals</text>
<text transform="translate(2757,606) rotate(90)" class="a" text-anchor="middle">(2)</text>
<text x="2802" y="609" font-size="13" text-anchor="middle">or</text>
<text transform="translate(2855,603) rotate(18)" class="a" text-anchor="middle">cancel duals</text>
<path class="ar" d="M2829 600 L2885 618"/>
<text x="2853" y="624" class="a" text-anchor="middle">(2)</text>
<text transform="translate(3027,603) rotate(-18)" class="a" text-anchor="middle">cancel duals)</text>
<path class="ar" d="M3057 605 L2996 621"/>
<text x="3030" y="626" class="a" text-anchor="middle">(2)</text>
<text x="3082" y="611" font-size="13" text-anchor="middle">or</text>
<path class="ar" d="M3118 583 V643"/>
<text transform="translate(3124,584) rotate(90)" class="a">cancel duals</text>
<text transform="translate(3105,606) rotate(90)" class="a" text-anchor="middle">(2)</text>
<g id="f5e">
<rect x="2665" y="650" width="265" height="90" rx="5" class="s"/>
<rect x="2677" y="673" width="242" height="55" rx="5" class="s"/>
<rect x="2701" y="697" width="206" height="19" rx="5" class="s"/>
<use href="#xa" transform="translate(2683,650) scale(0.83,0.98)"/>
<use href="#xb" transform="translate(2704,673) scale(0.83,1)"/>
<use href="#xb" transform="translate(2757,650) scale(0.83,0.98)"/>
<use href="#xa" transform="translate(2780,673) scale(0.83,1)"/>
<use href="#xb" transform="translate(2835,650) scale(0.83,0.98)"/>
<use href="#xa" transform="translate(2858,673) scale(0.83,1)"/>
<use href="#xb" transform="translate(2880,673) scale(0.83,1)"/>
<rect x="2725" y="673" width="25" height="24" class="pk"/>
<circle cx="2810" cy="650" r="12" class="tc"/>
<text x="2810" y="656" text-anchor="middle" style="font-family:'Liberation Sans',sans-serif" font-size="16">T</text>
<text x="2737" y="689" text-anchor="middle" class="bx">−x</text>
</g>
<g id="f5f">
<rect x="2980" y="650" width="265" height="90" rx="5" class="s"/>
<rect x="2992" y="673" width="241" height="55" rx="5" class="s"/>
<rect x="3016" y="697" width="205" height="19" rx="5" class="s"/>
<use href="#xa" transform="translate(2997,650) scale(0.83,0.98)"/>
<use href="#xb" transform="translate(3018,673) scale(0.83,1)"/>
<use href="#xb" transform="translate(3072,650) scale(0.83,0.98)"/>
<use href="#xa" transform="translate(3110,673) scale(0.83,1)"/>
<use href="#xb" transform="translate(3140,650) scale(0.83,0.98)"/>
<use href="#xa" transform="translate(3168,673) scale(0.83,1)"/>
<use href="#xb" transform="translate(3195,673) scale(0.83,1)"/>
<rect x="3039" y="673" width="25" height="24" class="pk"/>
<circle cx="3088" cy="697" r="12" class="tc"/>
<text x="3088" y="703" text-anchor="middle" style="font-family:'Liberation Sans',sans-serif" font-size="16">T</text>
<text x="3052" y="689" text-anchor="middle" class="bx">−x</text>
</g>
<text transform="translate(2878,765) rotate(45)" class="a" text-anchor="middle">isotopy</text>
<path class="ar" d="M2860 758 L2888 784"/>
<text transform="translate(2862,776) rotate(45)" class="a" text-anchor="middle">(3)</text>
<text transform="translate(3024,765) rotate(-45)" class="a" text-anchor="middle">isotopy</text>
<path class="ar" d="M3044 758 L3016 784"/>
<text transform="translate(3040,776) rotate(-45)" class="a" text-anchor="middle">(3)</text>
<g id="f5g">
<path class="s" d="M2930 797 H2923 Q2919 797 2919 801 V880 Q2919 884 2923 884 H2930"/>
<path class="s" d="M2980 797 H2988 Q2992 797 2992 801 V880 Q2992 884 2988 884 H2980"/>
<path class="s" d="M2930 810 V793 Q2930 789 2934 789 H2976 Q2980 789 2980 793 V824 M2930 824 H2980"/>
<path class="s" d="M2930 870 V856 H2980 V888 Q2980 892 2976 892 H2934 Q2930 892 2930 888 V879"/>
<rect x="2943" y="801" width="24" height="23" class="pk"/>
<rect x="2943" y="856" width="24" height="23" class="pk"/>
<path class="rd" d="M2973 824 V856"/>
<text x="2981" y="841" font-size="12">0</text>
<text x="2955" y="816" text-anchor="middle" class="bx">−x</text>
<text x="2955" y="871" text-anchor="middle" class="bx">x</text>
</g>
<circle cx="3020" cy="837" r="21" class="s"/>
<text x="3110" y="830" class="a" text-anchor="middle">expand band + isotopy</text>
<path class="ar" d="M3056 836 H3163"/>
<text x="3110" y="851" class="a" text-anchor="middle">(4)</text>
<circle cx="3195" cy="813" r="21" class="s"/>
<circle cx="3195" cy="865" r="21" class="s"/>
<circle cx="3243" cy="838" r="21" class="s"/>
</g>
<text x="2700" y="921" class="c" textLength="535" lengthAdjust="spacing">F<tspan font-size="11">IGURE</tspan> 5. Band moves for the <tspan class="i">𝒮</tspan><tspan class="sb">2b</tspan> case. Start with the top left diagram if the two</text>
<text x="2700" y="938" class="c" textLength="535" lengthAdjust="spacing">segments highlighted in purple do not lie on the same strand, otherwise start with the</text>
<text x="2700" y="956" class="c" textLength="535" lengthAdjust="spacing">top right; this ensures that after step (2), the tangle T does not lie on the otherwise</text>
<text x="2700" y="972" class="c" textLength="535" lengthAdjust="spacing">unknotted split component. The nontrivial component of the link obtained after step</text>
<text x="2700" y="989" class="c">(3) is the connected sum <tspan class="i">T</tspan>(2, <tspan class="i">x</tspan> + 2) # <tspan class="i">T</tspan>(2, −(<tspan class="i">x</tspan> + 2)) of two torus links.</text>
</g>

<!-- ================= PAGE 5 ================= -->
<g id="page5">
<text x="3816" y="152" class="h" text-anchor="middle">ON SLICE ALTERNATING 3-BRAID CLOSURES</text>
<text x="4134" y="152" class="h" text-anchor="end">5</text>
<g id="fig6">
<g id="f6a">
<rect x="3641" y="294" width="349" height="83" rx="5" class="s"/>
<rect x="3665" y="318" width="313" height="46" rx="5" class="s"/>
<rect x="3689" y="341" width="278" height="12" rx="5" class="s"/>
<use href="#xa" transform="translate(3660,294) scale(0.9,1)"/>
<use href="#xb" transform="translate(3690,318) scale(0.8,0.96)"/>
<use href="#xa" transform="translate(3710,318) scale(0.8,0.96)"/>
<use href="#xb" transform="translate(3730,294) scale(0.9,1)"/>
<use href="#xa" transform="translate(3755,318) scale(0.8,0.96)"/>
<use href="#xb" transform="translate(3780,294) scale(0.9,1)"/>
<use href="#xa" transform="translate(3862,318) scale(0.85,0.96)"/>
<use href="#xb" transform="translate(3898,294) scale(0.7,1)"/>
<use href="#xa" transform="translate(3914,294) scale(0.7,1)"/>
<use href="#xb" transform="translate(3958,294) scale(0.8,1)"/>
<rect x="3810" y="294" width="48" height="23" class="pk"/>
<rect x="3930" y="318" width="24" height="23" class="pk"/>
<text x="3834" y="310" text-anchor="middle" class="bx">x <tspan font-style="normal">− 1</tspan></text>
<text x="3942" y="334" text-anchor="middle" class="bx">−x</text>
<path class="rd" d="M3653 294 V283 Q3653 281 3655 281 H3772 Q3774 281 3774 283 V294"/>
<text x="3719" y="276" font-size="12" text-anchor="middle">−1</text>
</g>
<text x="3594" y="468" class="a" text-anchor="middle">expand band</text>
<path class="ar" d="M3562 474 H3626"/>
<text x="3594" y="488" class="a" text-anchor="middle">(1)</text>
<g id="f6b">
<path class="s" d="M3645 402 H3776 Q3782 402 3782 408 V439 H3983 Q3989 439 3989 445 V517 Q3989 523 3983 523 H3645 Q3639 523 3639 517 V408 Q3639 402 3645 402 Z"/>
<rect x="3663" y="426" width="95" height="20" rx="5" class="s"/>
<rect x="3663" y="462" width="315" height="48" rx="5" class="s"/>
<rect x="3687" y="486" width="280" height="12" rx="5" class="s"/>
<path class="s" d="M3672 439 H3760"/>
<use href="#xa" transform="translate(3695,402) scale(0.9,1)"/>
<use href="#xa" transform="translate(3668,439) scale(0.9,0.96)"/>
<use href="#xb" transform="translate(3690,462) scale(0.8,1)"/>
<use href="#xa" transform="translate(3712,462) scale(0.8,1)"/>
<use href="#xb" transform="translate(3733,439) scale(0.9,0.96)"/>
<use href="#xa" transform="translate(3757,462) scale(0.8,1)"/>
<use href="#xb" transform="translate(3782,439) scale(0.9,0.96)"/>
<use href="#xa" transform="translate(3862,462) scale(0.85,1)"/>
<use href="#xb" transform="translate(3898,439) scale(0.7,0.96)"/>
<use href="#xa" transform="translate(3914,439) scale(0.7,0.96)"/>
<use href="#xb" transform="translate(3958,439) scale(0.8,0.96)"/>
<rect x="3808" y="439" width="48" height="23" class="pk"/>
<rect x="3929" y="462" width="24" height="24" class="pk"/>
<text x="3832" y="455" text-anchor="middle" class="bx">x <tspan font-style="normal">− 1</tspan></text>
<text x="3941" y="478" text-anchor="middle" class="bx">−x</text>
</g>
<text x="3606" y="601" class="a" text-anchor="middle">isotopy</text>
<path class="ar" d="M3586 607 H3626"/>
<text x="3606" y="621" class="a" text-anchor="middle">(2)</text>
<g id="f6c">
<rect x="3659" y="546" width="313" height="97" rx="5" class="s"/>
<rect x="3683" y="595" width="277" height="35" rx="5" class="s"/>
<path class="s" d="M3668 571 H3960"/>
<use href="#xa" transform="translate(3660,546) scale(0.9,1.04)"/>
<use href="#xa" transform="translate(3690,571) scale(0.8,1)"/>
<use href="#xb" transform="translate(3710,571) scale(0.8,1)"/>
<use href="#xa" transform="translate(3735,546) scale(1.0,1.04)"/>
<use href="#xb" transform="translate(3752,571) scale(0.85,1)"/>
<use href="#xb" transform="translate(3775,546) scale(1.0,1.04)"/>
<use href="#xa" transform="translate(3858,571) scale(0.85,1)"/>
<use href="#xb" transform="translate(3893,571) scale(0.7,1)"/>
<use href="#xa" transform="translate(3909,571) scale(0.7,1)"/>
<use href="#xb" transform="translate(3945,571) scale(0.8,1)"/>
<rect x="3803" y="571" width="49" height="24" class="pk"/>
<rect x="3924" y="595" width="24" height="24" class="pk"/>
<text x="3827" y="587" text-anchor="middle" class="bx">x <tspan font-style="normal">− 1</tspan></text>
<text x="3936" y="611" text-anchor="middle" class="bx">−x</text>
</g>
<text x="3606" y="720" class="a" text-anchor="middle">isotopy</text>
<path class="ar" d="M3586 726 H3626"/>
<text x="3606" y="740" class="a" text-anchor="middle">(3)</text>
<g id="f6d">
<path class="s" d="M3678 764 H3958 Q3963 764 3963 758 Q3963 752 3958 752 H3740"/>
<path class="s" d="M3671 758 Q3671 752 3676 747 L3748 674 Q3752 670 3758 670 H3955 Q3960 670 3960 676 V690 L3936 715"/>
<path class="s" d="M3690 752 L3766 683 Q3770 679 3776 679 H3912 Q3917 679 3917 684 V692 L3905 700"/>
<path class="s" d="M3686 768 L3694 776 Q3698 780 3704 780 H3720 L3795 715 H3791"/>
<path class="s" d="M3706 752 L3778 691 H3791 M3839 691 H3868 L3900 722 M3839 715 L3862 738 H3912"/>
<use href="#xa" transform="translate(3722,735) scale(0.8,0.72)"/>
<use href="#xb" transform="translate(3868,691) scale(0.8,1)"/>
<rect x="3791" y="691" width="48" height="24" class="pk"/>
<rect x="3912" y="715" width="24" height="25" class="pk"/>
<text x="3815" y="707" text-anchor="middle" class="bx">x <tspan font-style="normal">− 1</tspan></text>
<text x="3924" y="732" text-anchor="middle" class="bx">−x</text>
</g>
<text x="3515" y="844" class="a" text-anchor="middle">isotopy</text>
<path class="ar" d="M3495 850 H3534"/>
<text x="3515" y="864" class="a" text-anchor="middle">(4)</text>
<g id="f6e">
<rect x="3573" y="789" width="192" height="121" rx="5" class="s"/>
<rect x="3585" y="813" width="168" height="36" rx="5" class="s"/>
<path class="s" d="M3693 797 Q3670 797 3670 805 V818 Q3670 823 3676 823 H3690 Q3695 823 3695 818 V800"/>
<use href="#xa" transform="translate(3670,849) scale(1,0.6)"/>
<use href="#xb" transform="translate(3670,864) scale(1,0.6)"/>
<use href="#xa" transform="translate(3670,879) scale(1,0.6)"/>
<use href="#xb" transform="translate(3670,894) scale(1,0.6)"/>
<rect x="3597" y="789" width="48" height="24" class="pk"/>
<rect x="3717" y="789" width="24" height="24" class="pk"/>
<text x="3621" y="805" text-anchor="middle" class="bx">x <tspan font-style="normal">− 1</tspan></text>
<text x="3729" y="805" text-anchor="middle" class="bx">−x</text>
</g>
<text x="3809" y="844" class="a" text-anchor="middle">isotopy</text>
<path class="ar" d="M3790 850 H3829"/>
<text x="3809" y="864" class="a" text-anchor="middle">(5)</text>
<g id="f6f">
<rect x="3856" y="788" width="133" height="121" rx="5" class="s"/>
<rect x="3868" y="813" width="112" height="36" rx="5" class="s"/>
<path class="s" d="M3905 797 Q3893 797 3893 805 V818 Q3893 823 3898 823 H3912 Q3917 823 3917 818 V800"/>
<use href="#xb" transform="translate(3940,790) scale(0.9,0.9)"/>
<use href="#xa" transform="translate(3893,849) scale(1,0.6)"/>
<use href="#xb" transform="translate(3893,864) scale(1,0.6)"/>
<use href="#xa" transform="translate(3893,879) scale(1,0.6)"/>
<use href="#xb" transform="translate(3893,894) scale(1,0.6)"/>
</g>
<text x="4040" y="844" class="a" text-anchor="middle">isotopy</text>
<path class="ar" d="M4021 850 H4060"/>
<text x="4040" y="864" class="a" text-anchor="middle">(6)</text>
<circle cx="4107" cy="825" r="21" class="s"/>
<circle cx="4107" cy="877" r="21" class="s"/>
</g>
<text x="3548" y="940" class="c" textLength="535" lengthAdjust="spacing">F<tspan font-size="11">IGURE</tspan> 6. Band moves for the <tspan class="i">𝒮</tspan><tspan class="sb">2d</tspan> case with <tspan class="i">x</tspan> ⩾ 1. In step (5), we undo <tspan class="i">x</tspan> − 1 cross-</text>
<text x="3548" y="958" class="c" textLength="535" lengthAdjust="spacing">ings in both blocks by flyping the tangle on the bottom of the diagram and performing</text>
<text x="3548" y="974" class="c" textLength="535" lengthAdjust="spacing">Reidemeister II moves. A similar band gives the two-component unlink for the alter-</text>
<text x="3548" y="991" class="c">nating 3-braid closure with associated string (2, 2, 2, 4, 4).</text>
</g>
</svg>
